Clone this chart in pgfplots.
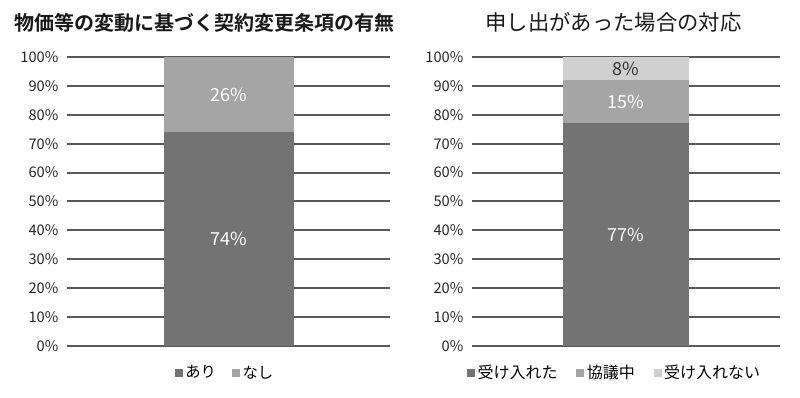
\documentclass[border=0pt]{standalone}
\usepackage{fontspec}
\setmainfont{Noto Sans CJK JP}
\newfontfamily\jpbold{Noto Sans CJK JP Bold}
\usepackage{pgfplots}
\pgfplotsset{compat=1.18}
\definecolor{cdark}{HTML}{737373}
\definecolor{cmid}{HTML}{A5A5A5}
\definecolor{clight}{HTML}{D0D0D0}
\definecolor{cgrid}{HTML}{595959}
\tikzset{lab/.style={font=\fontsize{13.5}{15}\selectfont, text=white}}
\pgfplotsset{
  common/.style={
    scale only axis,
    height=216.75pt,
    ymin=0, ymax=100,
    xmin=-1, xmax=1,
    ytick={0,10,...,100},
    yticklabel={\pgfmathprintnumber{\tick}\%},
    /pgf/number format/assume math mode=true,
    xtick=\empty,
    axis line style={draw=none},
    major tick length=0pt,
    ymajorgrids,
    grid style={cgrid, line width=1.5pt},
    tick label style={font=\fontsize{11}{13}\selectfont, text=black!85},
    yticklabel style={xshift=-3pt},
    ybar stacked,
    axis on top=false,
    legend style={draw=none, fill=none, font=\fontsize{11.5}{13}\selectfont, legend columns=-1,
      /tikz/every even column/.append style={column sep=10pt}},
    legend image code/.code={\fill[##1,draw=none] (0pt,-3pt) rectangle (6pt,3pt);},
    clip=false,
  },
}
\begin{document}
\begin{tikzpicture}
\path[use as bounding box] (0,0) rectangle (600pt,298.5pt);
% Left chart
\begin{axis}[common, at={(50.25pt,39pt)}, anchor=south west, width=242.25pt,
  bar width=97.5pt,
  legend style={at={(0.49,-0.093)}, anchor=center}]
\addplot[fill=cdark, draw=none] coordinates {(0,74)};
\addplot[fill=cmid, draw=none] coordinates {(0,26)};
\legend{あり,なし}
\coordinate (a1) at (axis cs:0,37);
\coordinate (a2) at (axis cs:0,87);
\end{axis}
\node[lab] at (a1) {74\%};
\node[lab] at (a2) {26\%};
\node[font=\jpbold\fontsize{15}{17}\selectfont, text=black!90] at (153pt,281.5pt) {物価等の変動に基づく契約変更条項の有無};
% Right chart
\begin{axis}[common, at={(354pt,39pt)}, anchor=south west, width=231pt,
  bar width=94.5pt,
  legend style={at={(0.464,-0.093)}, anchor=center, font=\fontsize{12}{14}\selectfont,
    /tikz/every even column/.append style={column sep=12pt}}]
\addplot[fill=cdark, draw=none] coordinates {(0,77)};
\addplot[fill=cmid, draw=none] coordinates {(0,15)};
\addplot[fill=clight, draw=none] coordinates {(0,8)};
\legend{受け入れた,協議中,受け入れない}
\coordinate (b1) at (axis cs:0,38.5);
\coordinate (b2) at (axis cs:0,84.5);
\coordinate (b3) at (axis cs:0,96);
\end{axis}
\node[lab] at (b1) {77\%};
\node[lab] at (b2) {15\%};
\node[lab, text=black!80] at (b3) {8\%};
\node[font=\fontsize{16}{18}\selectfont, text=black!90] at (460pt,281.5pt) {申し出があった場合の対応};
\end{tikzpicture}
\end{document}
